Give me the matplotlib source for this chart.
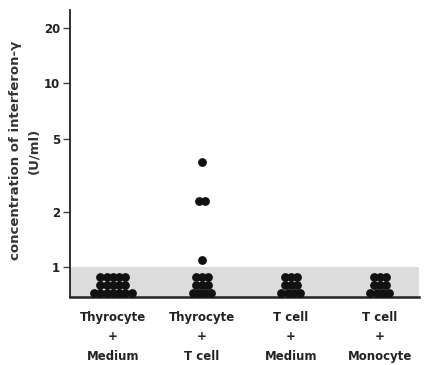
import numpy as np
import matplotlib
matplotlib.use('Agg')
import matplotlib.pyplot as plt
from matplotlib.ticker import FixedLocator, NullLocator

plt.rcParams['font.family'] = ['DejaVu Sans']
plt.rcParams['font.weight'] = 'bold'

categories = ['Thyrocyte\n+\nMedium', 'Thyrocyte\n+\nT cell',
              'T cell\n+\nMedium', 'T cell\n+\nMonocyte']

# values of interferon-gamma (U/ml) per group, one entry per dot
thy_medium = [0.89] * 5 + [0.805] * 5 + [0.73] * 7
thy_tcell = [3.72, 2.28, 2.28, 1.1] + [0.89] * 3 + [0.805] * 3 + [0.73] * 4
tcell_medium = [0.89] * 3 + [0.805] * 3 + [0.73] * 4
tcell_mono = [0.89] * 3 + [0.805] * 3 + [0.73] * 4
groups = [thy_medium, thy_tcell, tcell_medium, tcell_mono]

yticks = [1, 2, 5, 10, 20]
detect_limit = 1.0


def stack_x(center, vals, step=0.07):
    # spread equal values side by side, like the original dot plot
    vals = np.array(vals)
    xs = np.zeros(len(vals))
    for v in np.unique(vals):
        idx = np.where(vals == v)[0]
        n = len(idx)
        xs[idx] = center + (np.arange(n) - (n - 1) / 2) * step
    return xs


fig = plt.figure(figsize=(4.24, 3.65), dpi=100)
ax = fig.add_axes([0.165, 0.186, 0.823, 0.787])

ax.set_yscale('log')
ax.set_ylim(0.69, 25)
ax.set_xlim(0.517, 4.44)

ax.axhspan(0.69, detect_limit, color='#dcdcdc', zorder=0, lw=0)

for i, vals in enumerate(groups):
    xs = stack_x(i + 1, vals)
    ax.scatter(xs, vals, s=40, color='#111111', zorder=3, linewidths=0)

ax.yaxis.set_major_locator(FixedLocator(yticks))
ax.yaxis.set_minor_locator(NullLocator())
ax.set_yticklabels([str(t) for t in yticks], fontsize=8.5, fontweight='bold', color='#222222')
ax.tick_params(axis='y', length=5, width=1, color='#444444', pad=2)

ax.set_xticks([1, 2, 3, 4])
ax.set_xticklabels(categories, fontsize=8.5, fontweight='bold', linespacing=1.65, color='#222222')
ax.tick_params(axis='x', length=0, pad=10)

ax.set_ylabel('concentration of interferon-γ\n(U/ml)', fontsize=9.5, fontweight='bold',
              linespacing=1.55, color='#333333')
ax.yaxis.set_label_coords(-0.085, 0.51)

for s in ['top', 'right']:
    ax.spines[s].set_visible(False)
ax.spines['left'].set_linewidth(1.3)
ax.spines['bottom'].set_linewidth(1.8)
ax.spines['left'].set_color('#222222')
ax.spines['bottom'].set_color('#222222')

fig.savefig('out.png', dpi=100)
